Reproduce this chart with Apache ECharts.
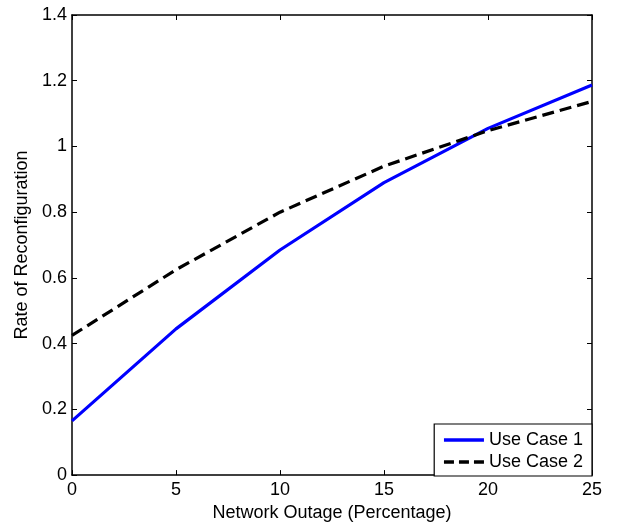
<!DOCTYPE html>
<html>
<head>
<meta charset="utf-8">
<script src="https://cdn.jsdelivr.net/npm/echarts@6/dist/echarts.min.js"></script>
<style>
  html, body { margin: 0; padding: 0; background: #fff; }
  #chart { width: 621px; height: 527px; }
</style>
</head>
<body>
<div id="chart"></div>
<script>
// Network outage levels (percent) and the rate of reconfiguration for each use case
const outage = [0, 5, 10, 15, 20, 25];
const useCase1 = [0.165, 0.445, 0.685, 0.89, 1.055, 1.187];
const useCase2 = [0.425, 0.625, 0.80, 0.94, 1.048, 1.137];
const seriesNames = ['Use Case 1', 'Use Case 2'];

const font = 'Liberation Sans, Arial, Helvetica, sans-serif';
const chart = echarts.init(document.getElementById('chart'));

const frameAxis = {
  axisLine: { show: true, onZero: false, lineStyle: { color: '#000', width: 1.5 } },
  axisTick: { show: true, inside: true, length: 5, lineStyle: { color: '#000', width: 1 } },
  splitLine: { show: false }
};

chart.setOption({
  animation: false,
  backgroundColor: '#fff',
  grid: { left: 72, right: 29, top: 15, bottom: 51, containLabel: false },
  legend: {
    data: [
      { name: seriesNames[0], lineStyle: { width: 3.5, color: '#0000ff' } },
      { name: seriesNames[1], lineStyle: { width: 3.5, color: '#000', type: [10, 5] } }
    ],
    orient: 'vertical',
    right: 29,
    bottom: 51,
    backgroundColor: '#fff',
    borderColor: '#000',
    borderWidth: 1.2,
    borderRadius: 0,
    padding: [7, 9, 5, 8],
    itemGap: 4,
    itemWidth: 40,
    itemHeight: 18,
    itemStyle: { opacity: 0 },
    textStyle: { fontFamily: font, fontSize: 18, color: '#000' }
  },
  xAxis: [
    Object.assign({
      type: 'value', min: 0, max: 25, interval: 5, position: 'bottom',
      name: 'Network Outage (Percentage)', nameLocation: 'middle', nameGap: 28,
      nameTextStyle: { fontFamily: font, fontSize: 18, color: '#000' },
      axisLabel: { fontFamily: font, fontSize: 18, color: '#000', margin: 6 }
    }, frameAxis),
    Object.assign({
      type: 'value', min: 0, max: 25, interval: 5, position: 'top',
      axisLabel: { show: false }
    }, frameAxis)
  ],
  yAxis: [
    Object.assign({
      type: 'value', min: 0, max: 1.4, interval: 0.2, position: 'left',
      name: 'Rate of Reconfiguration', nameLocation: 'middle', nameGap: 30,
      nameTextStyle: { fontFamily: font, fontSize: 18, color: '#000' },
      axisLabel: {
        fontFamily: font, fontSize: 18, color: '#000', margin: 5,
        formatter: v => String(Math.round(v * 10) / 10)
      }
    }, frameAxis),
    Object.assign({
      type: 'value', min: 0, max: 1.4, interval: 0.2, position: 'right',
      axisLabel: { show: false }
    }, frameAxis)
  ],
  series: [
    {
      name: seriesNames[0], type: 'line', symbol: 'none',
      data: outage.map((x, i) => [x, useCase1[i]]),
      lineStyle: { color: '#0000ff', width: 3.2 },
      itemStyle: { color: '#0000ff' }
    },
    {
      name: seriesNames[1], type: 'line', symbol: 'none',
      data: outage.map((x, i) => [x, useCase2[i]]),
      lineStyle: { color: '#000', width: 3.2, type: [12, 6] },
      itemStyle: { color: '#000' }
    }
  ]
});
</script>
</body>
</html>
